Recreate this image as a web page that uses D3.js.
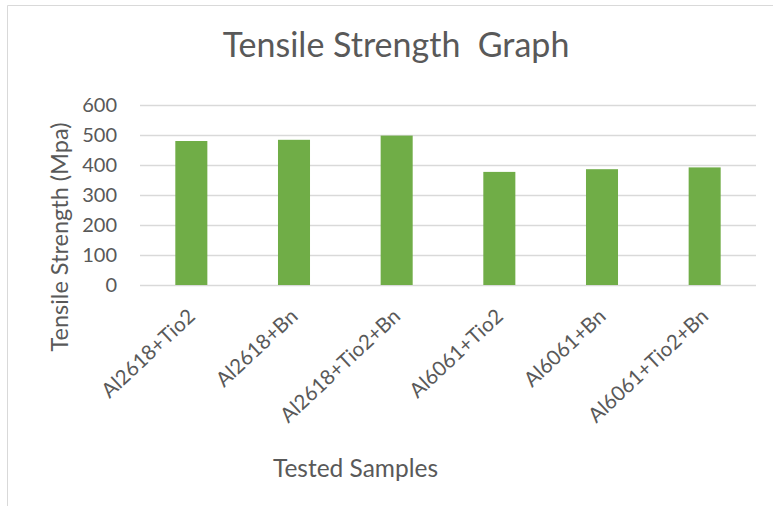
<!DOCTYPE html>
<html>
<head>
<meta charset="utf-8">
<script src="https://cdn.jsdelivr.net/npm/d3@7/dist/d3.min.js"></script>
<style>
  html, body { margin: 0; padding: 0; background: #fff; }
  svg { display: block; }
  text { font-family: Lato, "Open Sans", "Noto Sans", sans-serif; fill: #595959; }
</style>
</head>
<body>
<svg id="chart" width="773" height="506"></svg>
<script>
// Tensile strength per tested sample (MPa)
const samples = ["Al2618+Tio2", "Al2618+Bn", "Al2618+Tio2+Bn", "Al6061+Tio2", "Al6061+Bn", "Al6061+Tio2+Bn"];
const strength = [480, 484, 498, 377, 386, 392];
const yTicks = [0, 100, 200, 300, 400, 500, 600];

const titleText = "Tensile Strength  Graph";
const yTitleText = "Tensile Strength (Mpa)";
const xTitleText = "Tested Samples";

const W = 773, H = 506;
const plot = { left: 140, right: 756, top: 105, bottom: 285 };

const svg = d3.select("#chart");

// chart frame (only top and left edges fall inside the view)
svg.append("path")
  .attr("d", `M7.5,${H} V5.5 H${W}`)
  .attr("fill", "none")
  .attr("stroke", "#d9d9d9")
  .attr("stroke-width", 1);

const x = d3.scaleBand()
  .domain(samples)
  .range([plot.left, plot.right])
  .paddingInner(0.688)
  .paddingOuter(0.344);

const y = d3.scaleLinear()
  .domain([0, 600])
  .range([plot.bottom, plot.top]);

// horizontal gridlines + value labels
const yAxis = d3.axisLeft(y)
  .tickValues(yTicks)
  .tickSize(-(plot.right - plot.left))
  .tickPadding(23)
  .tickFormat(d3.format("d"));

const gy = svg.append("g")
  .attr("transform", `translate(${plot.left},0)`)
  .call(yAxis);
gy.select(".domain").remove();
gy.selectAll(".tick line")
  .attr("stroke", "#d9d9d9")
  .attr("stroke-width", 1.3);
gy.selectAll(".tick text")
  .style("font-size", "20px")
  .attr("fill", "#595959");

// bars
svg.append("g")
  .selectAll("rect")
  .data(samples)
  .join("rect")
  .attr("x", d => x(d))
  .attr("width", x.bandwidth())
  .attr("y", (d, i) => y(strength[i]))
  .attr("height", (d, i) => y(0) - y(strength[i]))
  .attr("fill", "#70ad47");

// rotated category labels
const labelSize = 20.5;
svg.append("g")
  .selectAll("text")
  .data(samples)
  .join("text")
  .attr("text-anchor", "end")
  .attr("transform", d => `translate(${x(d) + x.bandwidth() / 2 + 5},318) rotate(-43)`)
  .style("font-size", labelSize + "px")
  .text(d => d);

// title
svg.append("text")
  .attr("x", 396)
  .attr("y", 57)
  .attr("text-anchor", "middle")
  .style("white-space", "pre")
  .style("font-size", "34px")
  .text(titleText);

// axis titles
svg.append("text")
  .attr("transform", "translate(68,237) rotate(-90)")
  .attr("text-anchor", "middle")
  .style("font-size", "23.5px")
  .text(yTitleText);

svg.append("text")
  .attr("x", 355.5)
  .attr("y", 477)
  .attr("text-anchor", "middle")
  .style("font-size", "24.5px")
  .text(xTitleText);
</script>
</body>
</html>
